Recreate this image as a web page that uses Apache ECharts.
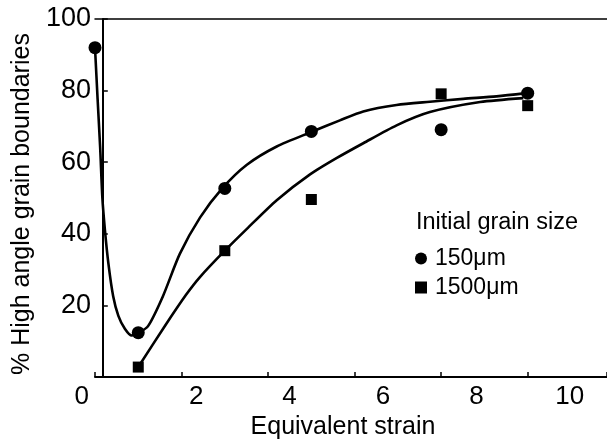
<!DOCTYPE html>
<html>
<head>
<meta charset="utf-8">
<script src="https://cdn.jsdelivr.net/npm/echarts@6/dist/echarts.min.js"></script>
<style>
  html, body { margin: 0; padding: 0; background: #ffffff; }
  #chart { width: 607px; height: 445px; }
</style>
</head>
<body>
<div id="chart"></div>
<script>
// 数据点
const strain150 = [0, 1, 3, 5, 8, 10]
const hagb150 = [92, 12.4, 52.7, 68.6, 69.1, 79.3]
const strain1500 = [1, 3, 5, 8, 10]
const hagb1500 = [2.8, 35.3, 49.6, 79.1, 75.8]

// 拟合曲线 (沿图中曲线取点)
const fitX150 = [0, 0.06, 0.12, 0.17, 0.23, 0.31, 0.42, 0.54, 0.69, 0.85, 1.02, 1.23, 1.57, 1.96, 2.43, 2.94, 3.51, 4.2, 5.01, 5.66, 6.2, 6.97, 7.74, 8.51, 9.28, 9.96]
const fitY150 = [92, 77.7, 63.9, 50.1, 41.0, 31.7, 22.6, 17.1, 13.5, 11.6, 12.4, 14.3, 22.6, 34.4, 44.6, 52.7, 59.3, 64.4, 68.5, 71.7, 74.2, 76.0, 76.9, 77.7, 78.4, 79.3]
const fitX1500 = [1.0, 1.6, 2.1, 2.43, 3.0, 3.51, 4.2, 4.97, 5.59, 6.2, 6.97, 7.74, 8.9, 9.9]
const fitY1500 = [2.8, 14.0, 22.9, 28.0, 35.3, 41.4, 49.4, 56.6, 61.2, 65.3, 70.3, 74.0, 76.8, 77.9]

const xLabels = [0, 2, 4, 6, 8, 10]
const legendNames = ['150\u03bcm', '1500\u03bcm']

const font = 'Liberation Sans, Arial, sans-serif'
const zip = (xs, ys) => xs.map((x, i) => [x, ys[i]])

const chart = echarts.init(document.getElementById('chart'), null, { renderer: 'canvas' })
chart.setOption({
  animation: false,
  backgroundColor: '#ffffff',
  textStyle: { fontFamily: font, color: '#000000' },
  grid: { left: 95, right: 0, top: 19, bottom: 63 },
  title: {
    text: 'Initial grain size',
    left: 416,
    top: 211,
    padding: 0,
    textStyle: { fontFamily: font, fontSize: 23.5, fontWeight: 'normal', color: '#000000' },
  },
  legend: {
    data: legendNames,
    orient: 'vertical',
    left: 415,
    top: 247,
    padding: 0,
    itemWidth: 12,
    itemHeight: 12,
    itemGap: 6,
    textStyle: { fontFamily: font, fontSize: 23, color: '#000000', padding: [0, 0, 0, 3] },
  },
  xAxis: [
    {
      // 带刻度标签的轴
      type: 'value',
      position: 'bottom',
      min: -0.167,
      max: 10.797,
      name: 'Equivalent strain',
      nameLocation: 'middle',
      nameGap: 32,
      nameTextStyle: { fontFamily: font, fontSize: 25, color: '#000000', padding: [0, 16, 0, 0] },
      axisLine: { show: false },
      axisTick: { show: false },
      splitLine: { show: false },
      axisLabel: {
        customValues: xLabels,
        margin: 7,
        fontFamily: font,
        fontSize: 26,
        color: '#000000',
        formatter: (v) => (v === 0 ? '{z|0}' : String(v)),
        rich: { z: { fontFamily: font, fontSize: 26, color: '#000000', padding: [0, 42, 0, 0] } },
      },
    },
    {
      // 数据所在的轴 (刻度线)
      type: 'value',
      position: 'bottom',
      min: 0,
      max: 11.833,
      interval: 2,
      axisLine: { show: true, lineStyle: { color: '#000000', width: 2 } },
      axisTick: { show: true, inside: true, length: 5, lineStyle: { color: '#000000', width: 1.5 } },
      axisLabel: { show: false },
      splitLine: { show: false },
    },
    {
      // 顶部边框
      type: 'value',
      position: 'top',
      min: 0,
      max: 1,
      axisLine: { show: true, lineStyle: { color: '#000000', width: 1.5 } },
      axisTick: { show: false },
      axisLabel: { show: false },
      splitLine: { show: false },
    },
  ],
  yAxis: {
    type: 'value',
    min: 0,
    max: 100,
    interval: 20,
    name: '% High angle grain boundaries',
    nameLocation: 'middle',
    nameRotate: 90,
    nameGap: 60,
    nameTextStyle: { fontFamily: font, fontSize: 25, color: '#000000', padding: [0, 12, 0, 0] },
    axisLine: { show: true, lineStyle: { color: '#000000', width: 2 } },
    axisTick: { show: true, inside: true, length: 5, lineStyle: { color: '#000000', width: 1.5 } },
    splitLine: { show: false },
    axisLabel: {
      margin: 4,
      fontFamily: font,
      fontSize: 27,
      color: '#000000',
      formatter: (v) => (v === 0 ? '' : String(v)),
    },
  },
  series: [
    {
      name: 'fit150',
      type: 'line',
      xAxisIndex: 1,
      data: zip(fitX150, fitY150),
      smooth: 0.25,
      symbol: 'none',
      lineStyle: { color: '#000000', width: 2.6 },
      z: 2,
    },
    {
      name: 'fit1500',
      type: 'line',
      xAxisIndex: 1,
      data: zip(fitX1500, fitY1500),
      smooth: 0.25,
      symbol: 'none',
      lineStyle: { color: '#000000', width: 2.6 },
      z: 2,
    },
    {
      name: legendNames[0],
      type: 'scatter',
      xAxisIndex: 1,
      data: zip(strain150, hagb150),
      symbol: 'circle',
      symbolSize: 13,
      itemStyle: { color: '#000000', opacity: 1 },
      z: 3,
    },
    {
      name: legendNames[1],
      type: 'scatter',
      xAxisIndex: 1,
      data: zip(strain1500, hagb1500),
      symbol: 'rect',
      symbolSize: 11,
      itemStyle: { color: '#000000', opacity: 1 },
      z: 3,
    },
  ],
})
</script>
</body>
</html>
